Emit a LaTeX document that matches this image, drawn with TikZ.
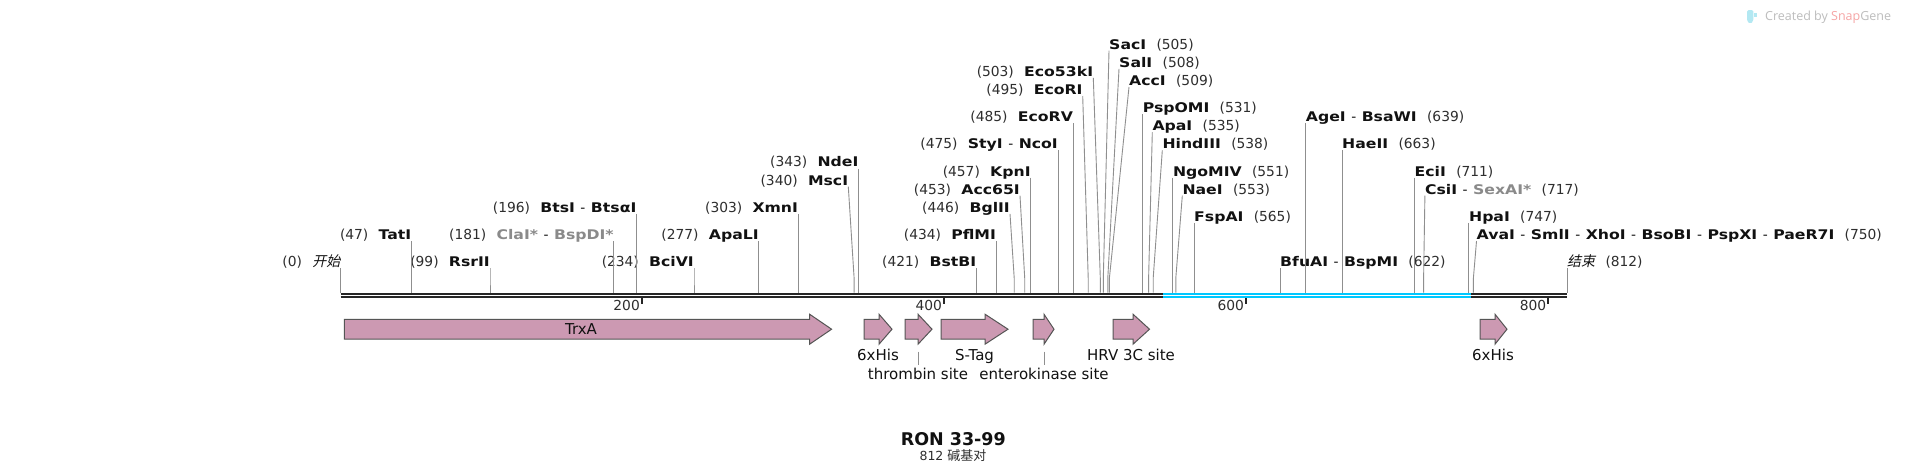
\documentclass[tikz,border=0pt]{standalone}
\usepackage{fontspec}
\setmainfont{DejaVu Sans}
\newfontfamily\namefont{DejaVu Sans}[FakeStretch=1.18]
\newfontfamily\cjk{Noto Sans CJK SC}
\newfontfamily\cjkit{Noto Sans CJK SC}[FakeSlant=0.22]
\newfontfamily\snapfont{Open Sans}
\definecolor{ronInk}{HTML}{111111}
\definecolor{ronNum}{HTML}{2E2E2E}
\definecolor{ronLine}{HTML}{8F8F8F}
\definecolor{ronBone}{HTML}{262626}
\definecolor{ronCyan}{HTML}{00C8FF}
\definecolor{ronFeat}{HTML}{CC99B2}
\definecolor{ronEdge}{HTML}{555555}
\definecolor{ronStar}{HTML}{8A8A8A}
\definecolor{snapGray}{HTML}{BDBDBD}
\definecolor{snapPink}{HTML}{F6A5A5}
\definecolor{snapIcon}{HTML}{B3E8F2}
\newcommand\enz[1]{{\namefont\fontsize{13.3}{15}\selectfont\bfseries\color{ronInk}#1}}
\newcommand\enzs[1]{{\namefont\fontsize{13.3}{15}\selectfont\bfseries\color{ronStar}#1}}
\newcommand\gp{\hspace{10.3pt}}
\newcommand\sep{{\color{ronInk}\hspace{5.5pt}-\hspace{5.5pt}}}
\newcommand\zh[1]{{\cjkit\fontsize{14}{15}\selectfont\color{ronInk}#1}}

\begin{document}
\begin{tikzpicture}[x=1pt,y=-1pt,line cap=butt,line join=miter]
\path[fill=white] (0,0) rectangle (1909,475);
\tikzset{lbl/.style={inner sep=0pt,text=ronNum,font=\fontsize{13.8}{15}\selectfont},cut/.style={draw=ronLine,line width=0.9pt},bone/.style={draw=ronBone,line width=2.1pt},sel/.style={draw=ronCyan,line width=2.1pt},tickmark/.style={draw=ronBone,line width=1.8pt},feat/.style={draw=ronEdge,fill=ronFeat,line width=1pt},flbl/.style={inner sep=0pt,text=ronInk,font=\fontsize{15}{16}\selectfont}}
% backbone
\draw[bone] (340.5,293.7) -- (1567,293.7);
\draw[bone] (340.5,297.2) -- (1567,297.2);
\draw[sel] (1163,293.7) -- (1471,293.7);
\draw[sel] (1163,297.2) -- (1471,297.2);
\draw[tickmark] (641.6,298.2) -- (641.6,303.5); \node[lbl,anchor=base east] (t200) at (640,310.9) {200};
\draw[tickmark] (943.7,298.2) -- (943.7,303.5); \node[lbl,anchor=base east] (t400) at (942.1,310.9) {400};
\draw[tickmark] (1245.8,298.2) -- (1245.8,303.5); \node[lbl,anchor=base east] (t600) at (1244.2,310.9) {600};
\draw[tickmark] (1547.9,298.2) -- (1547.9,303.5); \node[lbl,anchor=base east] (t800) at (1546.3,310.9) {800};
% cut sites
\coordinate (c0) at (340.5,292.7);
\coordinate (c47) at (411.5,292.7);
\coordinate (c99) at (490.0,292.7);
\coordinate (c181) at (613.9,292.7);
\coordinate (c196) at (636.6,292.7);
\coordinate (c234) at (694.0,292.7);
\coordinate (c277) at (758.9,292.7);
\coordinate (c303) at (798.2,292.7);
\coordinate (c340) at (854.1,292.7);
\coordinate (c343) at (858.6,292.7);
\coordinate (c421) at (976.4,292.7);
\coordinate (c434) at (996.1,292.7);
\coordinate (c446) at (1014.2,292.7);
\coordinate (c453) at (1024.7,292.7);
\coordinate (c457) at (1030.8,292.7);
\coordinate (c475) at (1058.0,292.7);
\coordinate (c485) at (1073.1,292.7);
\coordinate (c495) at (1088.2,292.7);
\coordinate (c503) at (1100.3,292.7);
\coordinate (c505) at (1103.3,292.7);
\coordinate (c508) at (1107.8,292.7);
\coordinate (c509) at (1109.4,292.7);
\coordinate (c531) at (1142.6,292.7);
\coordinate (c535) at (1148.6,292.7);
\coordinate (c538) at (1153.2,292.7);
\coordinate (c551) at (1172.8,292.7);
\coordinate (c553) at (1175.8,292.7);
\coordinate (c565) at (1194.0,292.7);
\coordinate (c622) at (1280.0,292.7);
\coordinate (c639) at (1305.7,292.7);
\coordinate (c663) at (1342.0,292.7);
\coordinate (c711) at (1414.5,292.7);
\coordinate (c717) at (1423.6,292.7);
\coordinate (c747) at (1468.9,292.7);
\coordinate (c750) at (1473.4,292.7);
\coordinate (c812) at (1567.0,292.7);
% labels left of their line
\node[lbl,anchor=base east] (l0) at (340.5,266.6) {(0)\gp\zh{开始}};
\node[lbl,anchor=base east] (l47) at (411.5,239.4) {(47)\gp\enz{TatI}};
\node[lbl,anchor=base east] (l99) at (490.0,266.6) {(99)\gp\enz{RsrII}};
\node[lbl,anchor=base east] (l181) at (613.9,239.4) {(181)\gp\enzs{ClaI*}\sep\enzs{BspDI*}};
\node[lbl,anchor=base east] (l196) at (636.6,212.2) {(196)\gp\enz{BtsI}\sep\enz{BtsαI}};
\node[lbl,anchor=base east] (l234) at (694.0,266.6) {(234)\gp\enz{BciVI}};
\node[lbl,anchor=base east] (l277) at (758.9,239.4) {(277)\gp\enz{ApaLI}};
\node[lbl,anchor=base east] (l303) at (798.2,212.2) {(303)\gp\enz{XmnI}};
\node[lbl,anchor=base east] (l340) at (848.3,185.0) {(340)\gp\enz{MscI}};
\node[lbl,anchor=base east] (l343) at (858.6,166.9) {(343)\gp\enz{NdeI}};
\node[lbl,anchor=base east] (l421) at (976.4,266.6) {(421)\gp\enz{BstBI}};
\node[lbl,anchor=base east] (l434) at (996.1,239.4) {(434)\gp\enz{PflMI}};
\node[lbl,anchor=base east] (l446) at (1010.0,212.2) {(446)\gp\enz{BglII}};
\node[lbl,anchor=base east] (l453) at (1020.0,194.1) {(453)\gp\enz{Acc65I}};
\node[lbl,anchor=base east] (l457) at (1030.8,176.0) {(457)\gp\enz{KpnI}};
\node[lbl,anchor=base east] (l475) at (1058.0,148.8) {(475)\gp\enz{StyI}\sep\enz{NcoI}};
\node[lbl,anchor=base east] (l485) at (1073.1,121.6) {(485)\gp\enz{EcoRV}};
\node[lbl,anchor=base east] (l495) at (1082.7,94.4) {(495)\gp\enz{EcoRI}};
\node[lbl,anchor=base east] (l503) at (1093.3,76.3) {(503)\gp\enz{Eco53kI}};
% labels right of their line
\node[lbl,anchor=base west] (l505) at (1109.0,49.1) {\enz{SacI}\gp(505)};
\node[lbl,anchor=base west] (l508) at (1119.0,67.2) {\enz{SalI}\gp(508)};
\node[lbl,anchor=base west] (l509) at (1129.0,85.4) {\enz{AccI}\gp(509)};
\node[lbl,anchor=base west] (l531) at (1142.6,112.6) {\enz{PspOMI}\gp(531)};
\node[lbl,anchor=base west] (l535) at (1152.3,130.7) {\enz{ApaI}\gp(535)};
\node[lbl,anchor=base west] (l538) at (1162.3,148.8) {\enz{HindIII}\gp(538)};
\node[lbl,anchor=base west] (l551) at (1172.8,176.0) {\enz{NgoMIV}\gp(551)};
\node[lbl,anchor=base west] (l553) at (1182.3,194.1) {\enz{NaeI}\gp(553)};
\node[lbl,anchor=base west] (l565) at (1194.0,221.3) {\enz{FspAI}\gp(565)};
\node[lbl,anchor=base west] (l622) at (1280.0,266.6) {\enz{BfuAI}\sep\enz{BspMI}\gp(622)};
\node[lbl,anchor=base west] (l639) at (1305.7,121.6) {\enz{AgeI}\sep\enz{BsaWI}\gp(639)};
\node[lbl,anchor=base west] (l663) at (1342.0,148.8) {\enz{HaeII}\gp(663)};
\node[lbl,anchor=base west] (l711) at (1414.5,176.0) {\enz{EciI}\gp(711)};
\node[lbl,anchor=base west] (l717) at (1424.9,194.1) {\enz{CsiI}\sep\enzs{SexAI*}\gp(717)};
\node[lbl,anchor=base west] (l747) at (1468.9,221.3) {\enz{HpaI}\gp(747)};
\node[lbl,anchor=base west] (l750) at (1476.5,239.4) {\enz{AvaI}\sep\enz{SmlI}\sep\enz{XhoI}\sep\enz{BsoBI}\sep\enz{PspXI}\sep\enz{PaeR7I}\gp(750)};
\node[lbl,anchor=base west] (l812) at (1567.0,266.6) {\zh{结束}\gp(812)};
% site lines
\draw[cut] ([yshift=-1.6pt]l0.base east) -- ([yshift=14.7pt]c0) -- (c0);
\draw[cut] ([yshift=-1.6pt]l47.base east) -- ([yshift=14.7pt]c47) -- (c47);
\draw[cut] ([yshift=-1.6pt]l99.base east) -- ([yshift=14.7pt]c99) -- (c99);
\draw[cut] ([yshift=-1.6pt]l181.base east) -- ([yshift=14.7pt]c181) -- (c181);
\draw[cut] ([yshift=-1.6pt]l196.base east) -- ([yshift=14.7pt]c196) -- (c196);
\draw[cut] ([yshift=-1.6pt]l234.base east) -- ([yshift=14.7pt]c234) -- (c234);
\draw[cut] ([yshift=-1.6pt]l277.base east) -- ([yshift=14.7pt]c277) -- (c277);
\draw[cut] ([yshift=-1.6pt]l303.base east) -- ([yshift=14.7pt]c303) -- (c303);
\draw[cut] ([yshift=-1.6pt]l340.base east) -- ([yshift=14.7pt]c340) -- (c340);
\draw[cut] ([yshift=-1.6pt]l343.base east) -- ([yshift=14.7pt]c343) -- (c343);
\draw[cut] ([yshift=-1.6pt]l421.base east) -- ([yshift=14.7pt]c421) -- (c421);
\draw[cut] ([yshift=-1.6pt]l434.base east) -- ([yshift=14.7pt]c434) -- (c434);
\draw[cut] ([yshift=-1.6pt]l446.base east) -- ([yshift=14.7pt]c446) -- (c446);
\draw[cut] ([yshift=-1.6pt]l453.base east) -- ([yshift=14.7pt]c453) -- (c453);
\draw[cut] ([yshift=-1.6pt]l457.base east) -- ([yshift=14.7pt]c457) -- (c457);
\draw[cut] ([yshift=-1.6pt]l475.base east) -- ([yshift=14.7pt]c475) -- (c475);
\draw[cut] ([yshift=-1.6pt]l485.base east) -- ([yshift=14.7pt]c485) -- (c485);
\draw[cut] ([yshift=-1.6pt]l495.base east) -- ([yshift=14.7pt]c495) -- (c495);
\draw[cut] ([yshift=-1.6pt]l503.base east) -- ([yshift=14.7pt]c503) -- (c503);
\draw[cut] ([yshift=-1.6pt]l505.base west) -- ([yshift=14.7pt]c505) -- (c505);
\draw[cut] ([yshift=-1.6pt]l508.base west) -- ([yshift=14.7pt]c508) -- (c508);
\draw[cut] ([yshift=-1.6pt]l509.base west) -- ([yshift=14.7pt]c509) -- (c509);
\draw[cut] ([yshift=-1.6pt]l531.base west) -- ([yshift=14.7pt]c531) -- (c531);
\draw[cut] ([yshift=-1.6pt]l535.base west) -- ([yshift=14.7pt]c535) -- (c535);
\draw[cut] ([yshift=-1.6pt]l538.base west) -- ([yshift=14.7pt]c538) -- (c538);
\draw[cut] ([yshift=-1.6pt]l551.base west) -- ([yshift=14.7pt]c551) -- (c551);
\draw[cut] ([yshift=-1.6pt]l553.base west) -- ([yshift=14.7pt]c553) -- (c553);
\draw[cut] ([yshift=-1.6pt]l565.base west) -- ([yshift=14.7pt]c565) -- (c565);
\draw[cut] ([yshift=-1.6pt]l622.base west) -- ([yshift=14.7pt]c622) -- (c622);
\draw[cut] ([yshift=-1.6pt]l639.base west) -- ([yshift=14.7pt]c639) -- (c639);
\draw[cut] ([yshift=-1.6pt]l663.base west) -- ([yshift=14.7pt]c663) -- (c663);
\draw[cut] ([yshift=-1.6pt]l711.base west) -- ([yshift=14.7pt]c711) -- (c711);
\draw[cut] ([yshift=-1.6pt]l717.base west) -- ([yshift=14.7pt]c717) -- (c717);
\draw[cut] ([yshift=-1.6pt]l747.base west) -- ([yshift=14.7pt]c747) -- (c747);
\draw[cut] ([yshift=-1.6pt]l750.base west) -- ([yshift=14.7pt]c750) -- (c750);
\draw[cut] ([yshift=-1.6pt]l812.base west) -- ([yshift=14.7pt]c812) -- (c812);
% features
\path[feat] (344.3,319.3) -- (809.6,319.3) -- (809.6,314.2) -- (831.6,329.2) -- (809.6,344.2) -- (809.6,339.1) -- (344.3,339.1) -- cycle;
\path[feat] (864,319.3) -- (879,319.3) -- (879,314.2) -- (892,329.2) -- (879,344.2) -- (879,339.1) -- (864,339.1) -- cycle;
\path[feat] (905,319.3) -- (918,319.3) -- (918,314.2) -- (932,329.2) -- (918,344.2) -- (918,339.1) -- (905,339.1) -- cycle;
\path[feat] (941,319.3) -- (985,319.3) -- (985,314.2) -- (1008,329.2) -- (985,344.2) -- (985,339.1) -- (941,339.1) -- cycle;
\path[feat] (1033,319.3) -- (1044,319.3) -- (1044,314.2) -- (1054,329.2) -- (1044,344.2) -- (1044,339.1) -- (1033,339.1) -- cycle;
\path[feat] (1113,319.3) -- (1133,319.3) -- (1133,314.2) -- (1149.5,329.2) -- (1133,344.2) -- (1133,339.1) -- (1113,339.1) -- cycle;
\path[feat] (1480,319.3) -- (1495,319.3) -- (1495,314.2) -- (1507,329.2) -- (1495,344.2) -- (1495,339.1) -- (1480,339.1) -- cycle;
\node[flbl,anchor=base] (fTrx) at (581,334.3) {TrxA};
\node[flbl,anchor=base] (fHis) at (878,360.8) {6xHis};
\node[flbl,anchor=base] (fThr) at (918,379.3) {thrombin site};
\node[flbl,anchor=base] (fSTag) at (974.5,360.8) {S-Tag};
\node[flbl,anchor=base] (fEnt) at (1044,379.3) {enterokinase site};
\node[flbl,anchor=base] (fHrv) at (1131,360.8) {HRV 3C site};
\node[flbl,anchor=base] (fHisB) at (1493,360.8) {6xHis};
\coordinate (thrTip) at (918.5,351.5);
\coordinate (entTip) at (1044.5,351.5);
\draw[cut] (thrTip) -- ++(0,13);
\draw[cut] (entTip) -- ++(0,13);
% title
\node[inner sep=0pt,anchor=base,text=ronInk,font=\fontsize{17.5}{20}\selectfont\bfseries] (title) at (953.3,445) {RON 33-99};
\node[inner sep=0pt,anchor=base,text=ronNum,font=\fontsize{12.5}{14}\selectfont] (bpsize) at (953,460.3) {812 {\cjk\fontsize{13}{14}\selectfont 碱基对}};
% watermark
\path[fill=snapIcon,rounded corners=1.5pt] (1747,10) -- (1753.3,10) -- (1753.3,21) -- (1750.2,24) -- (1747,21) -- cycle;
\path[fill=snapIcon] (1754.3,13.3) rectangle (1757.3,17.3);
\node[inner sep=0pt,anchor=base west,text=snapGray,font=\snapfont\fontsize{12.5}{14}\selectfont] (snap) at (1765,20.7) {Created by \textcolor{snapPink}{Snap}Gene};
\end{tikzpicture}
\end{document}
